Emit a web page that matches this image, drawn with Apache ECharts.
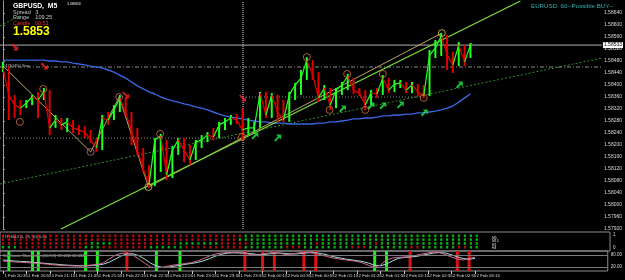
<!DOCTYPE html>
<html><head><meta charset="utf-8">
<script src="https://cdn.jsdelivr.net/npm/echarts@6/dist/echarts.min.js"></script>
<style>html,body{margin:0;padding:0;background:#000;}#c{width:625px;height:280px;}</style>
</head><body><div id="c"></div>
<script>
// ---------- data ----------
const closes = [
1.58457,1.58367,1.58333,1.58323,1.58340,1.58360,1.58350,1.58377,1.58257,1.58283,
1.58267,1.58277,1.58257,1.58250,1.58243,1.58217,1.58190,1.58290,1.58283,1.58317,
1.58357,1.58307,1.58250,1.58183,1.58123,1.58067,1.58217,1.58230,1.58100,1.58183,
1.58217,1.58183,1.58150,1.58210,1.58217,1.58233,1.58227,1.58267,1.58277,1.58290,
1.58283,1.58250,1.58257,1.58257,1.58373,1.58300,1.58367,1.58310,1.58283,1.58367,
1.58400,1.58423,1.58483,1.58433,1.58357,1.58390,1.58333,1.58383,1.58400,1.58430,
1.58383,1.58373,1.58333,1.58373,1.58370,1.58423,1.58383,1.58403,1.58407,1.58383,
1.58400,1.58377,1.58363,1.58500,1.58523,1.58563,1.58500,1.58467,1.58533,1.58477,
1.58533];
const highs = [
1.58477,1.58463,1.58367,1.58350,1.58350,1.58367,1.58377,1.58390,1.58383,1.58300,
1.58290,1.58290,1.58283,1.58267,1.58263,1.58250,1.58223,1.58300,1.58310,1.58333,
1.58367,1.58357,1.58310,1.58257,1.58190,1.58133,1.58223,1.58237,1.58217,1.58197,
1.58223,1.58223,1.58200,1.58217,1.58233,1.58243,1.58257,1.58277,1.58290,1.58300,
1.58303,1.58323,1.58290,1.58277,1.58377,1.58377,1.58373,1.58367,1.58350,1.58377,
1.58407,1.58450,1.58493,1.58483,1.58443,1.58400,1.58390,1.58390,1.58410,1.58437,
1.58423,1.58390,1.58383,1.58383,1.58390,1.58433,1.58423,1.58417,1.58417,1.58410,
1.58410,1.58403,1.58400,1.58517,1.58550,1.58573,1.58567,1.58510,1.58543,1.58533,
1.58540];
const lows = [
1.58443,1.58283,1.58290,1.58300,1.58323,1.58333,1.58290,1.58350,1.58233,1.58257,
1.58250,1.58243,1.58240,1.58233,1.58223,1.58207,1.58177,1.58183,1.58267,1.58283,
1.58310,1.58297,1.58200,1.58167,1.58110,1.58057,1.58063,1.58110,1.58083,1.58090,
1.58167,1.58143,1.58133,1.58150,1.58190,1.58210,1.58217,1.58223,1.58250,1.58267,
1.58270,1.58217,1.58233,1.58240,1.58257,1.58290,1.58290,1.58277,1.58277,1.58277,
1.58350,1.58367,1.58417,1.58417,1.58343,1.58350,1.58317,1.58323,1.58367,1.58383,
1.58370,1.58363,1.58317,1.58333,1.58357,1.58367,1.58373,1.58377,1.58390,1.58373,
1.58373,1.58363,1.58357,1.58363,1.58490,1.58497,1.58450,1.58440,1.58463,1.58463,
1.58490];
const maValues = [
1.58483,1.58483,1.58483,1.58483,1.58483,1.58483,1.58483,1.58483,1.58480,1.58480,
1.58477,1.58477,1.58473,1.58470,1.58467,1.58463,1.58460,1.58457,1.58450,1.58443,
1.58433,1.58423,1.58410,1.58397,1.58387,1.58377,1.58370,1.58360,1.58353,1.58347,
1.58343,1.58337,1.58333,1.58327,1.58323,1.58317,1.58310,1.58303,1.58297,1.58293,
1.58290,1.58287,1.58283,1.58280,1.58277,1.58277,1.58273,1.58273,1.58273,1.58270,
1.58270,1.58270,1.58270,1.58270,1.58273,1.58273,1.58277,1.58277,1.58280,1.58283,
1.58287,1.58287,1.58290,1.58290,1.58293,1.58297,1.58297,1.58300,1.58300,1.58303,
1.58303,1.58307,1.58307,1.58310,1.58313,1.58317,1.58323,1.58330,1.58343,1.58357,
1.58370];
const stochMain = [50,48,45,44,42,40,38,36,33,30,28,27,25,25,27,30,33,40,60,78,88,90,80,60,40,20,15,18,25,30,33,38,42,50,62,75,85,90,92,92,90,88,82,80,85,90,92,88,82,85,90,93,92,88,80,72,65,60,56,52,48,40,28,20,30,55,65,68,70,72,78,85,90,95,92,82,70,60,55,62,69];
const stochSignal = [55,52,50,48,47,44,41,39,36,34,31,29,28,26,26,27,30,34,44,59,75,85,86,77,60,40,25,18,19,24,29,34,38,43,51,62,74,83,89,91,91,90,87,83,82,85,89,90,87,85,86,89,92,91,87,80,72,66,60,56,52,47,39,29,26,35,50,63,68,70,73,78,84,90,92,90,81,71,62,59,63];
const stochGreenBars = [1,5,6,14,16,26,30,63,65];
const stochRedBars = [21,41,44,46,51,53,69,77,79];
const dotRowA = ["rrrrrrrrrr","rrrrrrrrrr","rrrrrrrrrr","rrrrrrrrrr","rggggggggg","gggggggggg","gggggggggg","gggggggggg","g"].join('');
const dotRowB = ["rrrrrrrrrr","rrrrrrrrrr","rrrrrrrrrr","rrrrrrrrrr","gggggggggg","gggggggggg","gggggggggg","gggggggggg","g"].join('');
const dotRowC = ["rrrrrrrrrr","rrrrrggggr","rrrrrrrrrr","gggggggrrr","rrgggggggg","gggrgggggg","gggrgggggg","gggggggggg","g"].join('');
const dotRowD = ["gggrrrrrrr","rrrrgggrrr","rrrrrggggg","grrrrrrrrr","rgggggggrr","rggggggggr","rrgggggggr","rggggggrrg","g"].join('');
const timeLabels = ["1 Feb 20:35","1 Feb 20:55","1 Feb 21:15","1 Feb 21:35","1 Feb 21:55","1 Feb 22:15","1 Feb 22:35","1 Feb 22:55","1 Feb 23:15","1 Feb 23:35","1 Feb 23:55","2 Feb 00:15","2 Feb 00:35","2 Feb 00:55","2 Feb 01:15","2 Feb 01:35","2 Feb 01:55","2 Feb 02:15","2 Feb 02:35","2 Feb 02:55","2 Feb 03:15"];
const priceTicks = {min:1.5792, max:1.5868, step:0.0004};
const swingMinor = [[2.9,1.58277],[6.9,1.58387],[26.9,1.58237],[40.9,1.58227],[52.0,1.58493],[55.9,1.58317],[58.9,1.58437],[62.0,1.58317],[65.0,1.58437],[72.0,1.58357]];
const swingMid = [[15.0,1.58177],[19.9,1.58360]];
const swingMajor = [[24.9,1.58060],[75.1,1.58573]];
const buySignals = [[43.1,1.58230],[47.0,1.58223],[58.1,1.58320],[63.0,1.58330],[65.0,1.58330],[68.0,1.58333],[72.1,1.58307],[78.1,1.58400]];
const sellSignals = [[2.0,1.58527],[7.1,1.58463],[21.0,1.58367],[41.0,1.58357]];
const trendUp = [[9.93,1.57920],[88.55,1.58680]];
const zigzag = [[-0.17,1.58467],[15.0,1.58177],[19.9,1.58360],[24.9,1.58060],[75.1,1.58573]];
const trendDotted = [[-0.5,1.58070],[102.5,1.58490]];
const trendDottedTop = [[-0.5,1.58597],[3.2,1.58633]];
const levelDash = [[-0.5,1.58460],[102.5,1.58460]];
const levelLeft = [[-0.5,1.58223],[41.08,1.58223]];
const levelMid = [[41.08,1.58360],[72.0,1.58360]];
const daySeparator = [[41.08,1.5792],[41.08,1.5868]];
const bidLine = [[-0.5,1.58533],[102.5,1.58533]];
const stochLevels = [80, 20];
const NCAT = 103;

// ---------- chart ----------
const GREEN = '#22ff22', RED = '#e00000';
const FONT = "Arial, 'Liberation Sans', sans-serif";
const chart = echarts.init(document.getElementById('c'), null, {renderer:'canvas'});
const priceData = closes.map((c,i)=>[i,c,highs[i],lows[i], i>0?closes[i-1]:c]);
const cats = Array.from({length:NCAT},(_,i)=>String(i));
const rows = [['A',dotRowA],['B',dotRowB],['C',dotRowC],['D',dotRowD]];
const dotsR = [], dotsG = [];
rows.forEach(([name,str])=>{ for(let i=0;i<str.length;i++){ (str[i]==='r'?dotsR:dotsG).push([i,name]); } });
const arrowPath = 'path://M10,0 L10,7 L7.5,4.5 L2.2,9.8 L0.2,7.8 L5.5,2.5 L3,0 Z';
const lineBase = {type:'line', xAxisIndex:0, yAxisIndex:0, symbol:'none', silent:true, animation:false};
const ring = (data,color)=>({type:'scatter', xAxisIndex:0, yAxisIndex:0, data, symbol:'circle', symbolSize:7,
  itemStyle:{color:'rgba(0,0,0,0)', borderColor:color, borderWidth:1}, z:5, silent:true});

const option = {
  backgroundColor:'#000',
  animation:false,
  textStyle:{fontFamily:FONT},
  grid:[
    {left:-2, top:1, width:612, height:228, show:false},
    {left:-2, top:232, width:612, height:19, show:true, borderColor:'#8c8c8c', borderWidth:1},
    {left:-2, top:251, width:612, height:20, show:true, borderColor:'#8c8c8c', borderWidth:1}
  ],
  xAxis:[
    {gridIndex:0, type:'value', min:-0.5, max:NCAT-0.5, show:false},
    {gridIndex:1, type:'value', min:-0.5, max:NCAT-0.5, show:false},
    {gridIndex:2, type:'category', data:cats, boundaryGap:true,
      axisLine:{show:false},
      axisTick:{show:true, alignWithLabel:true, length:3, lineStyle:{color:'#c8c8c8'},
        interval:(idx)=> idx%4===0 && idx/4 < timeLabels.length},
      axisLabel:{interval:3, align:'left', fontSize:4.4, color:'#d8d8d8', margin:2.5, padding:[0,0,0,1.5],
        formatter:(v,idx)=> (idx%4===0 && timeLabels[idx/4]) ? timeLabels[idx/4] : ''},
      splitLine:{show:false}}
  ],
  yAxis:[
    {gridIndex:0, type:'value', position:'right', min:priceTicks.min, max:priceTicks.max, interval:priceTicks.step,
      axisLine:{show:true, lineStyle:{color:'#9a9a9a'}},
      axisTick:{show:true, length:2, lineStyle:{color:'#9a9a9a'}},
      axisLabel:{fontSize:5, color:'#d8d8d8', margin:2, showMaxLabel:false, formatter:v=>v.toFixed(5)},
      splitLine:{show:false}},
    {gridIndex:1, type:'category', data:['bot','D','C','B','A','top'], boundaryGap:false, show:false},
    {gridIndex:1, type:'value', position:'right', min:-0.25, max:1.25, interval:0.25,
      axisLine:{show:false}, axisTick:{show:false}, splitLine:{show:false},
      axisLabel:{fontSize:4.5, color:'#d8d8d8', margin:3, formatter:v=> v===1?'1':(v===0?'0':'')}},
    {gridIndex:2, type:'value', position:'right', min:0, max:100, interval:20,
      axisLine:{show:false}, axisTick:{show:false}, splitLine:{show:false},
      axisLabel:{fontSize:4.5, color:'#d8d8d8', margin:3, formatter:v=> stochLevels.includes(v)? v.toFixed(2):''}}
  ],
  series:[
    Object.assign({}, lineBase, {data:trendDotted, lineStyle:{color:'#2f8f2f', width:1, type:[2,2]}, z:1}),
    Object.assign({}, lineBase, {data:trendDottedTop, lineStyle:{color:'#2f8f2f', width:1, type:[2,2]}, z:1}),
    Object.assign({}, lineBase, {data:levelLeft, lineStyle:{color:'#8a8a8a', width:1, type:[1,2]}, z:1}),
    Object.assign({}, lineBase, {data:levelMid, lineStyle:{color:'#8a8a8a', width:1, type:[1,2]}, z:1}),
    Object.assign({}, lineBase, {data:levelDash, lineStyle:{color:'#8a8a8a', width:1, type:[4,2,1,2]}, z:1}),
    Object.assign({}, lineBase, {data:daySeparator, lineStyle:{color:'#9a9a9a', width:1.5, type:[1,1]}, z:1}),
    Object.assign({}, lineBase, {data:bidLine, lineStyle:{color:'#b0b0b0', width:1}, z:1,
      endLabel:{show:true, formatter:()=>bidLine[0][1].toFixed(5), color:'#000', backgroundColor:'#fff',
        fontSize:5, padding:[1,1,0,1], distance:1}}),
    Object.assign({}, lineBase, {data:maValues.map((v,i)=>[i,v]), lineStyle:{color:'#3a66e0', width:1.4}, z:2}),
    Object.assign({}, lineBase, {data:zigzag, lineStyle:{color:'#b8a464', width:1}, z:3}),
    Object.assign({}, lineBase, {data:trendUp, lineStyle:{color:'#77e030', width:1.3}, z:3}),
    {type:'custom', xAxisIndex:0, yAxisIndex:0, data:priceData, encode:{x:0,y:[1,2,3]}, z:4, silent:true,
      renderItem:function(params, api){
        const i=api.value(0), c=api.value(1), h=api.value(2), l=api.value(3), p=api.value(4);
        const col = c>=p ? GREEN : RED;
        const ph=api.coord([i,h]), pl=api.coord([i,l]), pc=api.coord([i,c]);
        const ch=[{type:'line', shape:{x1:ph[0],y1:ph[1],x2:pl[0],y2:pl[1]}, style:{stroke:col, lineWidth:2}}];
        if(i>0){ const pp=api.coord([i-1,p]); ch.push({type:'line', shape:{x1:pp[0],y1:pp[1],x2:pc[0],y2:pc[1]}, style:{stroke:col, lineWidth:1.2}}); }
        return {type:'group', children:ch};
      }},
    ring(swingMinor,'#d8703c'),
    ring(swingMid,'#d0608c'),
    ring(swingMajor,'#e8d040'),
    {type:'scatter', xAxisIndex:0, yAxisIndex:0, data:buySignals, symbol:arrowPath, symbolSize:7, itemStyle:{color:'#22ee44'}, z:5, silent:true},
    {type:'scatter', xAxisIndex:0, yAxisIndex:0, data:sellSignals, symbol:arrowPath, symbolSize:7, symbolRotate:-90, itemStyle:{color:'#ff2020'}, z:5, silent:true},
    // indicator panel 1: dots
    {type:'scatter', xAxisIndex:1, yAxisIndex:1, data:dotsR, symbol:'rect', symbolSize:[2.2,2.6], itemStyle:{color:'#e01010'}, silent:true},
    {type:'scatter', xAxisIndex:1, yAxisIndex:1, data:dotsG, symbol:'rect', symbolSize:[2.2,2.6], itemStyle:{color:'#10e010'}, silent:true},
    // indicator panel 2
    {type:'bar', xAxisIndex:2, yAxisIndex:3, data:stochGreenBars.map(i=>[i,100]), barWidth:3, barGap:'-100%', itemStyle:{color:'#22ee22'}, z:1, silent:true},
    {type:'bar', xAxisIndex:2, yAxisIndex:3, data:stochRedBars.map(i=>[i,100]), barWidth:3, barGap:'-100%', itemStyle:{color:'#e01010'}, z:1, silent:true},
    {type:'line', xAxisIndex:2, yAxisIndex:3, data:stochLevels.length?[]:[], symbol:'none', silent:true},
    {type:'line', xAxisIndex:2, yAxisIndex:3, data:stochSignal, symbol:'none', lineStyle:{color:'#9fdede', width:1}, z:3, silent:true},
    {type:'line', xAxisIndex:2, yAxisIndex:3, data:stochMain, symbol:'none', lineStyle:{color:'#d46a92', width:1}, z:3, silent:true,
      markLine:{silent:true, symbol:'none', animation:false, label:{show:false},
        data:stochLevels.map(v=>({yAxis:v})), lineStyle:{color:'#7a7a7a', type:'solid', width:1}}}
  ],
  graphic:[
    {type:'text', x:13, y:6, style:{text:'GBPUSD,  M5', fill:'#ffffff', fontSize:6.8, fontWeight:'bold', fontFamily:FONT, verticalAlign:'middle'}},
    {type:'text', x:67, y:4, style:{text:'1.58653', fill:'#ffffff', fontSize:3.8, fontFamily:FONT, verticalAlign:'middle'}},
    {type:'text', x:13, y:12.3, style:{text:'Spread   3', fill:'#c8c8c8', fontSize:5.5, fontFamily:FONT, verticalAlign:'middle'}},
    {type:'text', x:13, y:17.7, style:{text:'Range    109.25', fill:'#c8c8c8', fontSize:5.5, fontFamily:FONT, verticalAlign:'middle'}},
    {type:'text', x:13, y:23.2, style:{text:'Candle   00:51', fill:'#ff2a2a', fontSize:5.5, fontFamily:FONT, verticalAlign:'middle'}},
    {type:'text', x:13, y:32, style:{text:'1.5853', fill:'#ffff00', fontSize:12, fontWeight:'bold', fontFamily:FONT, verticalAlign:'middle'}},
    {type:'text', x:3, y:66, style:{text:'#4761450 Sms', fill:'#c0c0c0', fontSize:4, fontFamily:FONT, verticalAlign:'middle'}},
    {type:'text', x:531, y:6, style:{text:'EURUSD. 60--Possible BUY--', fill:'#35b3b3', fontSize:6.2, fontFamily:FONT, verticalAlign:'middle'}},
    {type:'text', x:2, y:237, style:{text:'#TF-MA3 (5, 25, 30) 0.00', fill:'#c0c0c0', fontSize:4, fontFamily:FONT, verticalAlign:'middle'}},
    {type:'text', x:492, y:243, style:{text:'M5\nM15\nH1\nH4', fill:'#e0e0e0', fontSize:3.4, lineHeight:3.6, fontFamily:FONT, verticalAlign:'middle'}},
    {type:'text', x:3, y:256, style:{text:'Stochastic Momentum(10,3,3) 69.1111 62.6829', fill:'#c0c0c0', fontSize:4, fontFamily:FONT, verticalAlign:'middle'}}
  ]
};
chart.setOption(option);
</script>
</body></html>
